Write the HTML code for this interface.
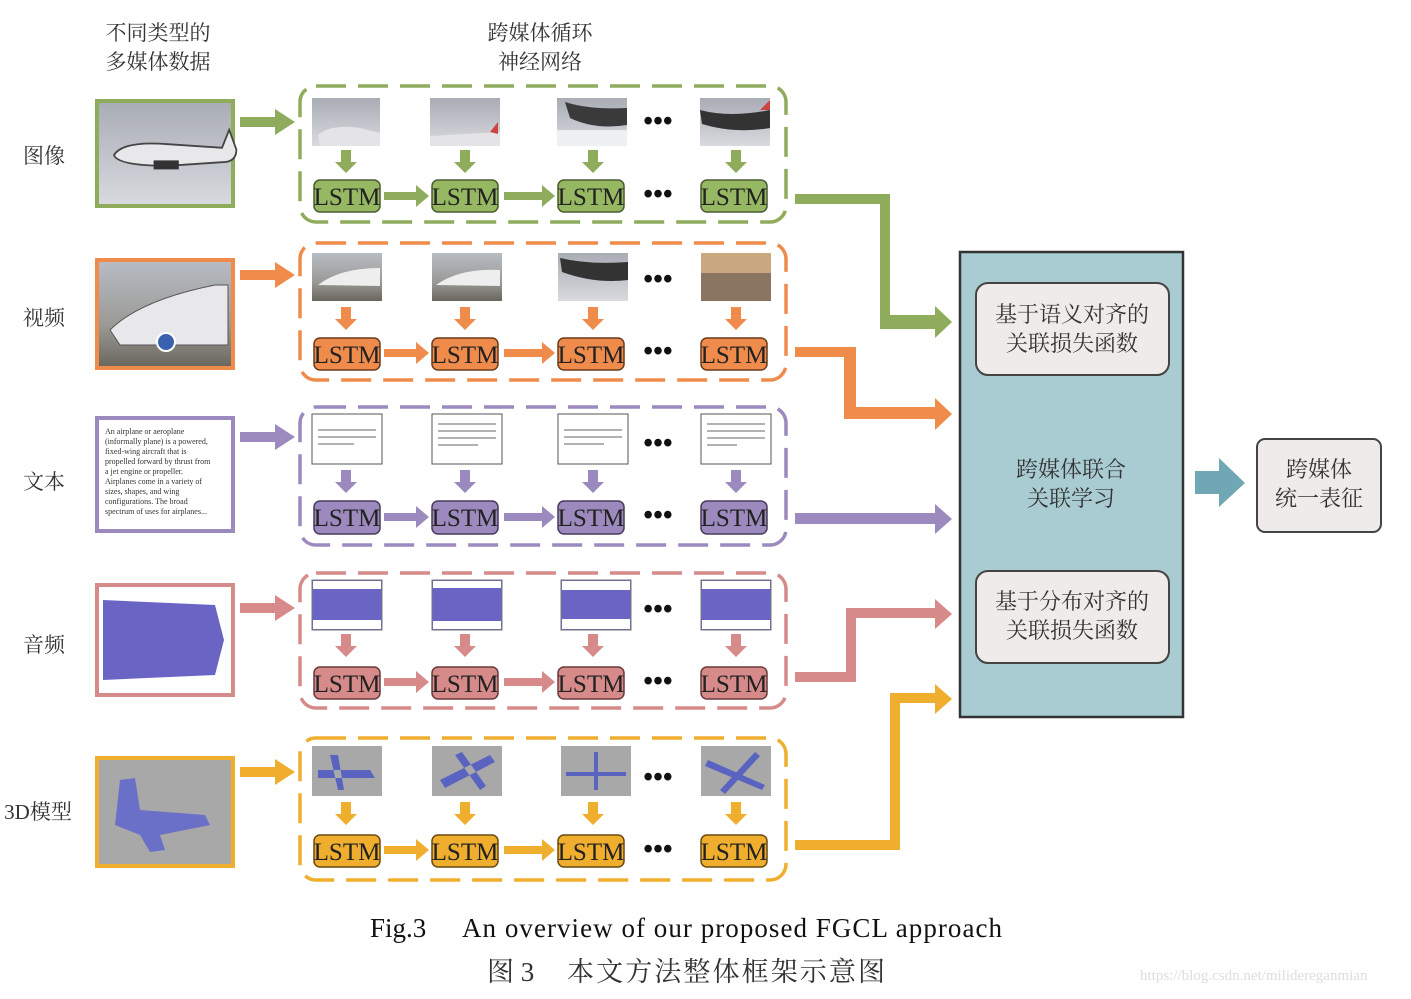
<!DOCTYPE html>
<html><head><meta charset="utf-8"><style>
body{margin:0;background:#fff;}
svg text{font-family:"Liberation Serif","Noto Serif CJK SC",serif;}
.cn{font-family:"Liberation Serif","Noto Serif CJK SC",serif;fill:#333;}
.l{font-size:25px;fill:#222;text-anchor:middle;}
.d{font-size:28px;font-weight:bold;text-anchor:middle;fill:#111;}
</style></head><body>
<svg width="1411" height="994" viewBox="0 0 1411 994" xmlns="http://www.w3.org/2000/svg">
<defs>
<linearGradient id="sky" x1="0" y1="0" x2="0" y2="1"><stop offset="0" stop-color="#a8acb4"/><stop offset="1" stop-color="#d8dadf"/></linearGradient>
<linearGradient id="run" x1="0" y1="0" x2="0" y2="1"><stop offset="0" stop-color="#b8bcc4"/><stop offset="0.6" stop-color="#9a9a96"/><stop offset="1" stop-color="#6a665c"/></linearGradient>
<g id="plane"><path d="M-30,0 Q-25,-8 0,-6 L30,-4 L34,-14 L38,-3 Q38,4 30,4 L0,6 Q-28,6 -30,0Z" fill="#e8e8ea" stroke="#444" stroke-width="1"/><rect x="-8" y="3" width="14" height="5" fill="#333"/></g>
</defs>
<rect width="1411" height="994" fill="#fff"/>

<text class="cn" x="158" y="40" font-size="21" text-anchor="middle">不同类型的</text>
<text class="cn" x="158" y="69" font-size="21" text-anchor="middle">多媒体数据</text>
<text class="cn" x="540" y="40" font-size="21" text-anchor="middle">跨媒体循环</text>
<text class="cn" x="540" y="69" font-size="21" text-anchor="middle">神经网络</text>
<text class="cn" x="44" y="163" font-size="21" text-anchor="middle">图像</text>
<text class="cn" x="44" y="325" font-size="21" text-anchor="middle">视频</text>
<text class="cn" x="44" y="489" font-size="21" text-anchor="middle">文本</text>
<text class="cn" x="44" y="652" font-size="21" text-anchor="middle">音频</text>
<text class="cn" x="38" y="819" font-size="21" text-anchor="middle">3D模型</text>

<g>
<rect x="97" y="101" width="136" height="105" fill="url(#sky)" stroke="#8eac5c" stroke-width="4"/>
<use href="#plane" transform="translate(168,155) scale(1.8)"/>
<path d="M240,117 h35 v-8 l20,13 l-20,13 v-8 h-35z" fill="#8eac5c"/>
<rect x="300" y="86" width="486" height="136" rx="16" fill="none" stroke="#8eac5c" stroke-width="3.5" stroke-dasharray="30,12"/>
<rect x="312" y="98" width="68" height="48" fill="url(#sky)"/><rect x="430" y="98" width="70" height="48" fill="url(#sky)"/><rect x="557" y="98" width="70" height="48" fill="url(#sky)"/><rect x="700" y="98" width="70" height="48" fill="url(#sky)"/>
<path d="M318,135 Q330,124 360,128 L380,133 V146 H320Z" fill="#e4e4e6"/><path d="M430,136 L500,132 V146 H430Z" fill="#e4e4e6"/><path d="M490,132 l8,-10 v12z" fill="#c44"/>
<path d="M565,102 Q590,110 627,108 V125 Q595,130 570,118Z" fill="#3a3a3a"/><rect x="557" y="130" width="70" height="16" fill="#eef0f2"/>
<path d="M700,110 Q730,118 770,110 V128 Q735,134 702,124Z" fill="#333"/><path d="M760,110 l10,-10 v10z" fill="#c44"/>
<g fill="#8eac5c"><path d="M341,150h10v12h6l-11,11l-11,-11h6z"/><path d="M460,150h10v12h6l-11,11l-11,-11h6z"/><path d="M588,150h10v12h6l-11,11l-11,-11h6z"/><path d="M731,150h10v12h6l-11,11l-11,-11h6z"/>
<path d="M384,192h32v-7l13,11l-13,11v-7h-32z"/><path d="M504,192h38v-7l13,11l-13,11v-7h-38z"/></g>
<g fill="#97b862" stroke="#4a5a30" stroke-width="1.5"><rect x="314" y="180" width="66" height="32" rx="6"/><rect x="432" y="180" width="66" height="32" rx="6"/><rect x="558" y="180" width="66" height="32" rx="6"/><rect x="701" y="180" width="66" height="32" rx="6"/></g>
<text class="l" x="347" y="205">LSTM</text><text class="l" x="465" y="205">LSTM</text><text class="l" x="591" y="205">LSTM</text><text class="l" x="734" y="205">LSTM</text>
<text class="d" x="658" y="130">•••</text><text class="d" x="658" y="203">•••</text>
<path d="M795,194 H890 V315 H935 V306 L952,322 L935,338 V329 H880 V204 H795Z" fill="#8eac5c"/>
</g>

<g>
<rect x="97" y="260" width="136" height="108" fill="url(#run)" stroke="#ef8c4c" stroke-width="4"/>
<path d="M110,330 Q140,300 215,285 L228,285 V345 H120Z" fill="#e8e8ea" stroke="#555"/><circle cx="166" cy="342" r="9" fill="#3a60b0" stroke="#fff" stroke-width="2"/>
<path d="M240,270 h35 v-8 l20,13 l-20,13 v-8 h-35z" fill="#ef8c4c"/>
<rect x="300" y="243" width="486" height="137" rx="16" fill="none" stroke="#ef8c4c" stroke-width="3.5" stroke-dasharray="30,12"/>
<rect x="312" y="253" width="70" height="48" fill="url(#run)"/><rect x="432" y="253" width="70" height="48" fill="url(#run)"/><rect x="558" y="253" width="70" height="48" fill="url(#sky)"/><rect x="701" y="253" width="70" height="48" fill="#8a7660"/>
<path d="M318,285 Q340,268 380,268 V286Z" fill="#eee"/><path d="M436,285 Q460,268 500,270 V286Z" fill="#eee"/><path d="M560,258 Q590,265 628,262 V280 Q595,284 562,272Z" fill="#333"/><path d="M701,253 h70 v20 h-70z" fill="#caa880"/>
<g fill="#ef8c4c"><path d="M341,307h10v12h6l-11,11l-11,-11h6z"/><path d="M460,307h10v12h6l-11,11l-11,-11h6z"/><path d="M588,307h10v12h6l-11,11l-11,-11h6z"/><path d="M731,307h10v12h6l-11,11l-11,-11h6z"/>
<path d="M384,349h32v-7l13,11l-13,11v-7h-32z"/><path d="M504,349h38v-7l13,11l-13,11v-7h-38z"/></g>
<g fill="#ef8c4c" stroke="#6a3a1a" stroke-width="1.5"><rect x="314" y="338" width="66" height="32" rx="6"/><rect x="432" y="338" width="66" height="32" rx="6"/><rect x="558" y="338" width="66" height="32" rx="6"/><rect x="701" y="338" width="66" height="32" rx="6"/></g>
<text class="l" x="347" y="363">LSTM</text><text class="l" x="465" y="363">LSTM</text><text class="l" x="591" y="363">LSTM</text><text class="l" x="734" y="363">LSTM</text>
<text class="d" x="658" y="288">•••</text><text class="d" x="658" y="360">•••</text>
<path d="M795,347 H856 V407 H935 V398 L952,414 L935,430 V419 H844 V357 H795Z" fill="#ef8c4c"/>
</g>

<g>
<rect x="97" y="418" width="136" height="113" fill="#fff" stroke="#9c8abf" stroke-width="4"/>
<g font-size="8" fill="#333"><text x="105" y="434">An airplane or aeroplane</text><text x="105" y="444">(informally plane) is a powered,</text><text x="105" y="454">fixed-wing aircraft that is</text><text x="105" y="464">propelled forward by thrust from</text><text x="105" y="474">a jet engine or propeller.</text><text x="105" y="484">Airplanes come in a variety of</text><text x="105" y="494">sizes, shapes, and wing</text><text x="105" y="504">configurations. The broad</text><text x="105" y="514">spectrum of uses for airplanes...</text></g>
<path d="M240,432 h35 v-8 l20,13 l-20,13 v-8 h-35z" fill="#9c8abf"/>
<rect x="300" y="407" width="486" height="138" rx="16" fill="none" stroke="#9c8abf" stroke-width="3.5" stroke-dasharray="30,12"/>
<g fill="#fff" stroke="#555" stroke-width="1"><rect x="312" y="414" width="70" height="50"/><rect x="432" y="414" width="70" height="50"/><rect x="558" y="414" width="70" height="50"/><rect x="701" y="414" width="70" height="50"/></g>
<g stroke="#999" stroke-width="1.5"><path d="M318,430h58M318,437h58M318,444h36M438,424h58M438,431h58M438,438h58M438,445h40M564,430h58M564,437h58M564,444h40M707,424h58M707,431h58M707,438h58M707,445h30"/></g>
<g fill="#9c8abf"><path d="M341,470h10v12h6l-11,11l-11,-11h6z"/><path d="M460,470h10v12h6l-11,11l-11,-11h6z"/><path d="M588,470h10v12h6l-11,11l-11,-11h6z"/><path d="M731,470h10v12h6l-11,11l-11,-11h6z"/>
<path d="M384,513h32v-7l13,11l-13,11v-7h-32z"/><path d="M504,513h38v-7l13,11l-13,11v-7h-38z"/></g>
<g fill="#9c8abf" stroke="#4a3a5a" stroke-width="1.5"><rect x="314" y="501" width="66" height="33" rx="6"/><rect x="432" y="501" width="66" height="33" rx="6"/><rect x="558" y="501" width="66" height="33" rx="6"/><rect x="701" y="501" width="66" height="33" rx="6"/></g>
<text class="l" x="347" y="526">LSTM</text><text class="l" x="465" y="526">LSTM</text><text class="l" x="591" y="526">LSTM</text><text class="l" x="734" y="526">LSTM</text>
<text class="d" x="658" y="452">•••</text><text class="d" x="658" y="524">•••</text>
<path d="M795,513 H935 V504 L952,519 L935,534 V524 H795Z" fill="#9c8abf"/>
</g>

<g>
<rect x="97" y="585" width="136" height="110" fill="#fff" stroke="#d68a8a" stroke-width="4"/>
<path d="M103,600 L215,605 L224,640 L215,675 L103,680Z" fill="#6a64c4"/>
<path d="M240,603 h35 v-8 l20,13 l-20,13 v-8 h-35z" fill="#d68a8a"/>
<rect x="300" y="573" width="486" height="135" rx="16" fill="none" stroke="#d68a8a" stroke-width="3.5" stroke-dasharray="30,12"/>
<g fill="#6a64c4" stroke="#777" stroke-width="1"><rect x="312" y="580" width="70" height="50"/><rect x="432" y="580" width="70" height="50"/><rect x="561" y="580" width="70" height="50"/><rect x="701" y="580" width="70" height="50"/></g>
<g fill="#fff"><rect x="313" y="581" width="68" height="8"/><rect x="313" y="620" width="68" height="9"/><rect x="433" y="581" width="68" height="7"/><rect x="433" y="621" width="68" height="8"/><rect x="562" y="581" width="68" height="9"/><rect x="562" y="619" width="68" height="10"/><rect x="702" y="581" width="68" height="8"/><rect x="702" y="620" width="68" height="9"/></g>
<g fill="#d68a8a"><path d="M341,634h10v12h6l-11,11l-11,-11h6z"/><path d="M460,634h10v12h6l-11,11l-11,-11h6z"/><path d="M588,634h10v12h6l-11,11l-11,-11h6z"/><path d="M731,634h10v12h6l-11,11l-11,-11h6z"/>
<path d="M384,678h32v-7l13,11l-13,11v-7h-32z"/><path d="M504,678h38v-7l13,11l-13,11v-7h-38z"/></g>
<g fill="#d68a8a" stroke="#6a3a3a" stroke-width="1.5"><rect x="314" y="667" width="66" height="32" rx="6"/><rect x="432" y="667" width="66" height="32" rx="6"/><rect x="558" y="667" width="66" height="32" rx="6"/><rect x="701" y="667" width="66" height="32" rx="6"/></g>
<text class="l" x="347" y="692">LSTM</text><text class="l" x="465" y="692">LSTM</text><text class="l" x="591" y="692">LSTM</text><text class="l" x="734" y="692">LSTM</text>
<text class="d" x="658" y="618">•••</text><text class="d" x="658" y="690">•••</text>
<path d="M795,672 H846 V608 H935 V599 L952,614 L935,629 V618 H856 V682 H795Z" fill="#d68a8a"/>
</g>

<g>
<rect x="97" y="758" width="136" height="108" fill="#a8a8a8" stroke="#f0ae2e" stroke-width="4"/>
<path d="M120,780 L135,778 L140,810 L205,815 L210,825 L160,835 L165,850 L150,852 L140,835 L115,825Z" fill="#6a70c8"/>
<path d="M240,767 h35 v-8 l20,13 l-20,13 v-8 h-35z" fill="#f0ae2e"/>
<rect x="300" y="738" width="486" height="142" rx="16" fill="none" stroke="#f0ae2e" stroke-width="3.5" stroke-dasharray="30,12"/>
<g fill="#a8a8a8"><rect x="312" y="746" width="70" height="50"/><rect x="432" y="746" width="70" height="50"/><rect x="561" y="746" width="70" height="50"/><rect x="701" y="746" width="70" height="50"/></g>
<g fill="#5a64c0"><path d="M318,770 L370,770 L375,778 L318,778Z M330,755 L338,790 L344,790 L338,755Z"/><path d="M440,780 L490,755 L495,762 L445,788Z M455,755 L480,790 L486,786 L462,752Z"/><path d="M566,772 H626 V776 H566Z M594,752 H598 V790 H594Z"/><path d="M708,760 L765,785 L762,790 L705,766Z M720,790 L755,752 L760,756 L725,794Z"/></g>
<g fill="#f0ae2e"><path d="M341,802h10v12h6l-11,11l-11,-11h6z"/><path d="M460,802h10v12h6l-11,11l-11,-11h6z"/><path d="M588,802h10v12h6l-11,11l-11,-11h6z"/><path d="M731,802h10v12h6l-11,11l-11,-11h6z"/>
<path d="M384,846h32v-7l13,11l-13,11v-7h-32z"/><path d="M504,846h38v-7l13,11l-13,11v-7h-38z"/></g>
<g fill="#f0ae2e" stroke="#6a4a10" stroke-width="1.5"><rect x="314" y="835" width="66" height="32" rx="6"/><rect x="432" y="835" width="66" height="32" rx="6"/><rect x="558" y="835" width="66" height="32" rx="6"/><rect x="701" y="835" width="66" height="32" rx="6"/></g>
<text class="l" x="347" y="860">LSTM</text><text class="l" x="465" y="860">LSTM</text><text class="l" x="591" y="860">LSTM</text><text class="l" x="734" y="860">LSTM</text>
<text class="d" x="658" y="786">•••</text><text class="d" x="658" y="858">•••</text>
<path d="M795,840 H890 V693 H935 V684 L952,699 L935,714 V703 H900 V850 H795Z" fill="#f0ae2e"/>
</g>

<rect x="960" y="252" width="223" height="465" fill="#a9ccd3" stroke="#333" stroke-width="2.5"/>
<rect x="976" y="283" width="193" height="92" rx="12" fill="#eeebe8" stroke="#444" stroke-width="2"/>
<text class="cn" x="1072" y="322" font-size="22" text-anchor="middle">基于语义对齐的</text>
<text class="cn" x="1072" y="351" font-size="22" text-anchor="middle">关联损失函数</text>
<text class="cn" x="1071" y="477" font-size="22" text-anchor="middle" fill="#345">跨媒体联合</text>
<text class="cn" x="1071" y="506" font-size="22" text-anchor="middle" fill="#345">关联学习</text>
<rect x="976" y="571" width="193" height="92" rx="12" fill="#eeebe8" stroke="#444" stroke-width="2"/>
<text class="cn" x="1072" y="609" font-size="22" text-anchor="middle">基于分布对齐的</text>
<text class="cn" x="1072" y="638" font-size="22" text-anchor="middle">关联损失函数</text>
<path d="M1195,471 H1219 V458 L1245,483 L1219,507 V494 H1195Z" fill="#6fa8b4"/>
<rect x="1257" y="439" width="124" height="93" rx="8" fill="#eeebe8" stroke="#444" stroke-width="2"/>
<text class="cn" x="1319" y="477" font-size="22" text-anchor="middle">跨媒体</text>
<text class="cn" x="1319" y="506" font-size="22" text-anchor="middle">统一表征</text>

<text x="370" y="937" font-size="27" fill="#111">Fig.3</text>
<text x="462" y="937" font-size="27" fill="#111" textLength="540" lengthAdjust="spacing">An overview of our proposed FGCL approach</text>
<text class="cn" x="487" y="981" font-size="27" fill="#111">图 3</text>
<text class="cn" x="567" y="981" font-size="27" fill="#111" textLength="318" lengthAdjust="spacing">本文方法整体框架示意图</text>
<text x="1140" y="980" font-size="15" fill="#ddd" font-family="Liberation Sans,sans-serif">https://blog.csdn.net/milidereganmian</text>
</svg>
</body></html>
